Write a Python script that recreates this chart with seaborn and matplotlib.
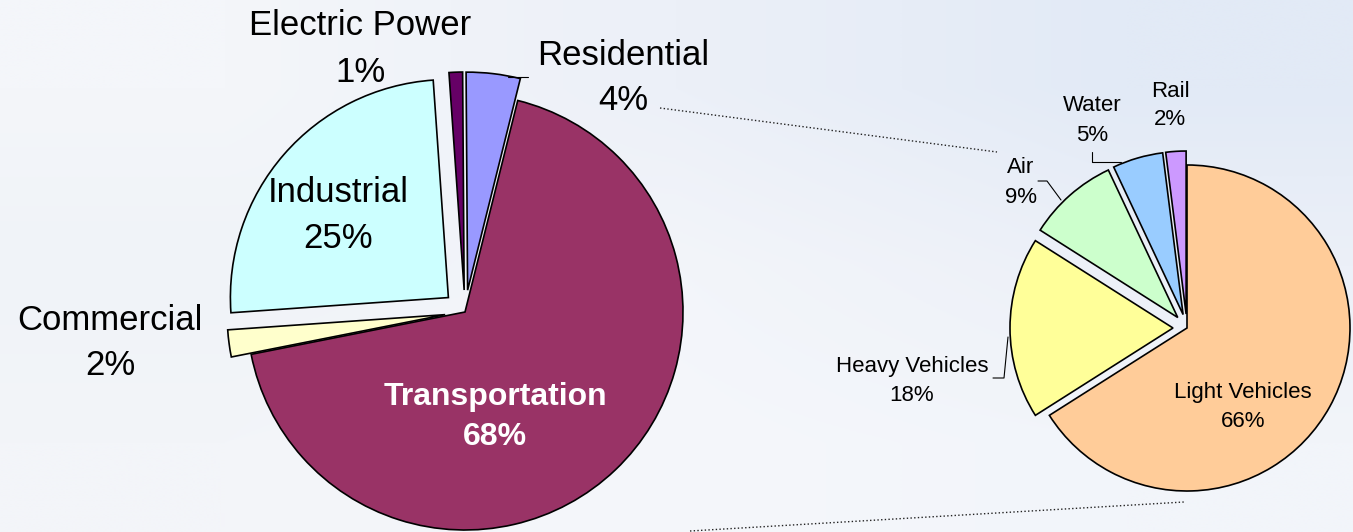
import numpy as np
import matplotlib
matplotlib.use("Agg")
import matplotlib.pyplot as plt
import seaborn as sns

# ── data: energy use by sector and transport breakdown (%) ────────────────
sector_names = ["Residential", "Electric Power", "Industrial", "Commercial", "Transportation"]
sector_shares = [4, 1, 25, 2, 68]
sector_colors = ["#9999FF", "#660066", "#CCFFFF", "#FFFFCC", "#993366"]

transport_names = ["Rail", "Water", "Air", "Heavy Vehicles", "Light Vehicles"]
transport_shares = [2, 5, 9, 18, 66]
transport_colors = ["#CC99FF", "#99CCFF", "#CCFFCC", "#FFFF99", "#FFCC99"]

W, H = 1353, 532


def top(v):
    # pixel rows are measured from the top of the picture
    return H - v


sns.set_style("white")
plt.rcParams["font.family"] = ["Liberation Sans", "DejaVu Sans"]
plt.rcParams["text.color"] = "black"

fig = plt.figure(figsize=(W / 100, H / 100), dpi=100)
ax = fig.add_axes([0, 0, 1, 1])

# pale sky backdrop
sky = np.array([[[244, 246, 250], [236, 240, 248], [226, 234, 246]],
                [[240, 243, 248], [243, 245, 250], [236, 240, 248]],
                [[243, 245, 249], [245, 247, 251], [242, 245, 250]]]) / 255
ax.imshow(sky, extent=(0, W, 0, H), interpolation="bilinear", aspect="auto", zorder=0)

edge = dict(edgecolor="black", linewidth=1.2)

# ── main pie ──────────────────────────────────────────────────────────────
ax.pie(sector_shares, colors=sector_colors, startangle=76,
       center=(465, top(312)), radius=218,
       explode=[22, 22, 22, 20, 0], wedgeprops=edge, frame=True)

# ── transport pie ─────────────────────────────────────────────────────────
ax.pie(transport_shares, colors=transport_colors, startangle=90,
       center=(1187, top(328)), radius=163,
       explode=[14, 14, 14, 14, 0], wedgeprops=edge, frame=True)

# ── labels (x centre, name baseline, percent baseline) ───────────────────
main_pos = {
    "Residential":    (623, 65, 110),
    "Electric Power": (360, 35, 82),
    "Industrial":     (338, 202, 248),
    "Commercial":     (110, 330, 375),
}
for name, share in zip(sector_names, sector_shares):
    if name == "Transportation":
        ax.text(495, top(405), name, ha="center", va="baseline", fontsize=23,
                fontweight="bold", color="white")
        ax.text(495, top(445), f"{share}%", ha="center", va="baseline", fontsize=23,
                fontweight="bold", color="white")
        continue
    x, y1, y2 = main_pos[name]
    ax.text(x, top(y1), name, ha="center", va="baseline", fontsize=25)
    ax.text(x, top(y2), f"{share}%", ha="center", va="baseline", fontsize=25)

sub_pos = {
    "Rail":           (1170, 97, 125),
    "Water":          (1092, 111, 141),
    "Air":            (1021, 173, 203),
    "Heavy Vehicles": (912, 372, 401),
    "Light Vehicles": (1243, 398, 427),
}
for name, share in zip(transport_names, transport_shares):
    x, y1, y2 = sub_pos[name]
    ax.text(x, top(y1), name, ha="center", va="baseline", fontsize=16)
    ax.text(x, top(y2), f"{share}%", ha="center", va="baseline", fontsize=16)

# leader lines
leaders = [
    [(508, 77), (528, 77)],
    [(1092, 152), (1092, 162), (1121, 162)],
    [(1038, 181), (1047, 181), (1061, 200)],
    [(993, 378), (1004, 378), (1008, 337)],
]
for pts in leaders:
    xs, ys = zip(*pts)
    ax.plot(xs, [top(v) for v in ys], color="black", linewidth=0.8)

# dotted connectors between the two pies
ax.plot([660, 997], [top(108), top(152)], color="#222222", linestyle=":", linewidth=1.0)
ax.plot([690, 1184], [top(531), top(502)], color="#222222", linestyle=":", linewidth=1.0)

ax.set_xlim(0, W)
ax.set_ylim(0, H)
ax.set_aspect("equal")
ax.axis("off")

fig.savefig("out.png", dpi=100)
